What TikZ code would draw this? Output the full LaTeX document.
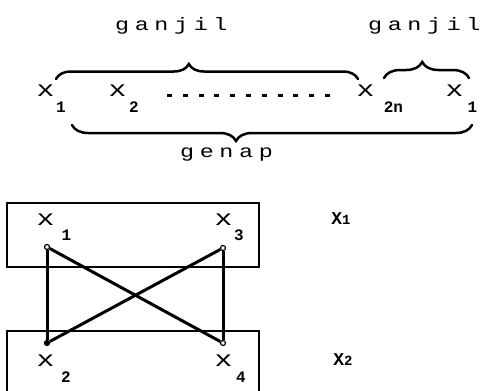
\documentclass[tikz,border=0pt]{standalone}
\usepackage{fontspec}
\setmainfont{Liberation Mono}
\newfontfamily\widemono[LetterSpace=24]{Liberation Mono}
\newcommand{\hx}{\scalebox{1.35}[1]{x}}
\newcommand{\hw}[1]{\scalebox{1.3}[1]{#1}}
\usetikzlibrary{decorations.pathreplacing}
\begin{document}
\begin{tikzpicture}[x=1pt,y=-1pt,
  lbl/.style={inner sep=0pt,font=\fontsize{22}{22}\selectfont},
  subl/.style={inner sep=0pt,font=\bfseries\fontsize{16}{16}\selectfont},
  word/.style={inner sep=0pt,anchor=west,font=\fontsize{18}{18}\widemono},
  setl/.style={inner sep=0pt,font=\bfseries\fontsize{18}{18}\selectfont},
  bracestyle/.style={decorate,line width=2.5pt,line cap=round},
  boxline/.style={line width=1.5pt},
  edgeline/.style={line width=3pt},
  vtx/.style={circle,draw,line width=1.2pt,inner sep=0pt,minimum size=5pt,fill=white},
]
\useasboundingbox (0,0) rectangle (483,391);

% ---- top part ----
\node[word] (g1) at (115,26) {\hw{ganjil}};
\node[word] (g2) at (368,26) {\hw{ganjil}};
\node[word] (gp) at (180,155) {\hw{genap}};

\node[lbl] (a1) at (45.5,91) {\hx};
\node[subl] (a1s) at (61,107.5) {1};
\node[lbl] (a2) at (117.5,91) {\hx};
\node[subl] (a2s) at (134,107.5) {2};
\node[lbl] (a3) at (365.5,91) {\hx};
\node[subl] (a3s) at (393.5,107.5) {2n};
\node[lbl] (a4) at (454.5,91) {\hx};
\node[subl] (a4s) at (472.5,107.5) {1};

\coordinate (dl) at (167,95);
\coordinate (dr) at (330,95);
\draw[line width=3pt,dash pattern=on 5pt off 10.8pt] (dl) -- (dr);

\coordinate (b1s) at (56,79);
\coordinate (b1e) at (358,79);
\coordinate (b2s) at (384,78);
\coordinate (b2e) at (469,78);
\coordinate (b3s) at (472,125);
\coordinate (b3e) at (72,125);
\draw[bracestyle,decoration={brace,amplitude=15pt,aspect=0.44}] (b1s) -- (b1e);
\draw[bracestyle,decoration={brace,amplitude=16pt,aspect=0.45}] (b2s) -- (b2e);
\draw[bracestyle,decoration={brace,amplitude=16pt,aspect=0.59}] (b3s) -- (b3e);

% ---- bottom part ----
\draw[boxline] (7,203) rectangle (259,267);
\draw[boxline] (7,391) -- (7,331) -- (259,331) -- (259,391);

\node[lbl] (l1) at (45.5,219.5) {\hx};
\node[subl] (l1s) at (66.5,235) {1};
\node[lbl] (l3) at (223.5,219.5) {\hx};
\node[subl] (l3s) at (239,235) {3};
\node[lbl] (l2) at (45.5,361) {\hx};
\node[subl] (l2s) at (66,377) {2};
\node[lbl] (l4) at (223.5,361) {\hx};
\node[subl] (l4s) at (241,377) {4};

\node[setl] (X1) at (341,219) {X\fontsize{14}{14}\selectfont 1};
\node[setl] (X2) at (343,360) {X\fontsize{14}{14}\selectfont 2};

\node[vtx] (v1) at (47,247) {};
\node[vtx] (v3) at (223,248) {};
\node[vtx,fill=black] (v2) at (47,343) {};
\node[vtx] (v4) at (223,343) {};

\draw[edgeline] (v1) -- (v2);
\draw[edgeline] (v1) -- (v4);
\draw[edgeline] (v3) -- (v2);
\draw[edgeline] (v3) -- (v4);
\end{tikzpicture}
\end{document}
